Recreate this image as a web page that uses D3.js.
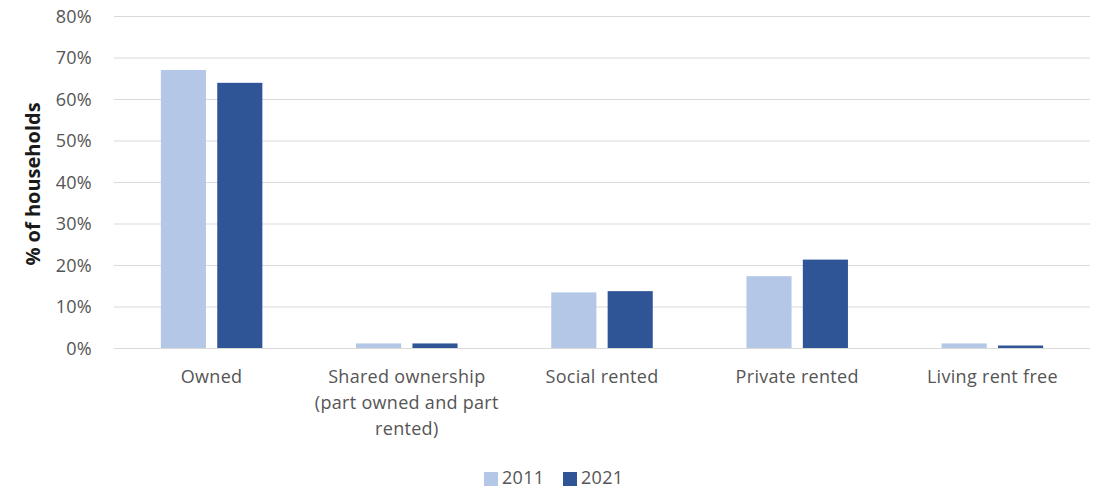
<!DOCTYPE html>
<html><head><meta charset="utf-8">
<script src="https://cdn.jsdelivr.net/npm/d3@7"></script>
<style>body{margin:0;background:#fff}svg{display:block}</style>
</head><body>
<svg id="c" width="1102" height="489"></svg>
<script>
const categories = ["Owned", "Shared ownership\n(part owned and part\nrented)", "Social rented", "Private rented", "Living rent free"];
const series = ["2011", "2021"];
const values2011 = [67.0, 1.1, 13.4, 17.3, 1.1];
const values2021 = [63.9, 1.1, 13.7, 21.3, 0.6];
const yTicks = [0, 10, 20, 30, 40, 50, 60, 70, 80];
const colors = ["#B4C7E7", "#2F5597"];

(function () {
const font = "'Open Sans', sans-serif";
const fs = 18, ls = "0.3px", txt = "#555555";
const svg = d3.select("#c");
const pLeft = 114, pRight = 1090, pTop = 16, pBottom = 348;

const y = d3.scaleLinear().domain([0, 80]).range([pBottom, pTop]);
const x0 = d3.scaleBand().domain(categories).range([pLeft, pRight]).paddingInner(0.48).paddingOuter(0.24);
const x1 = d3.scaleBand().domain(series).range([0, x0.bandwidth()]).paddingInner(0.2);

// gridlines
svg.append("g").selectAll("line").data(yTicks).join("line")
  .attr("x1", pLeft).attr("x2", pRight)
  .attr("y1", d => y(d) + 0.5).attr("y2", d => y(d) + 0.5)
  .attr("stroke", "#D9D9D9").attr("stroke-width", 1);

// y axis labels
const yAxis = d3.axisLeft(y).tickValues(yTicks).tickFormat(d => d + "%").tickSize(0).tickPadding(0);
const ya = svg.append("g").attr("transform", `translate(${pLeft - 22},0)`).call(yAxis);
ya.select(".domain").remove();
ya.selectAll("text").attr("font-family", font).attr("font-size", fs).attr("letter-spacing", ls)
  .attr("fill", txt).attr("dy", "0.35em");

// bars
const data = categories.map((c, i) => ({c, v: [values2011[i], values2021[i]]}));
const g = svg.append("g");
data.forEach(d => {
  series.forEach((s, j) => {
    g.append("rect")
      .attr("x", x0(d.c) + x1(s))
      .attr("y", y(d.v[j]))
      .attr("width", x1.bandwidth())
      .attr("height", y(0) - y(d.v[j]))
      .attr("fill", colors[j]);
  });
});

// x axis labels
const xa = svg.append("g");
categories.forEach(c => {
  const lines = c.split("\n");
  const cx = x0(c) + x0.bandwidth() / 2;
  const t = xa.append("text").attr("x", cx).attr("y", 383)
    .attr("text-anchor", "middle").attr("font-family", font).attr("font-size", fs)
    .attr("letter-spacing", ls).attr("fill", txt);
  lines.forEach((l, k) => t.append("tspan").attr("x", cx).attr("dy", k === 0 ? 0 : 26).text(l));
});

// y title
svg.append("text").attr("transform", `translate(40,${(pTop + pBottom) / 2 + 2}) rotate(-90)`)
  .attr("text-anchor", "middle").attr("font-family", font).attr("font-weight", "bold")
  .attr("font-size", 20).attr("fill", "#1a1a1a").text("% of households");

// legend
const legX = [484, 563];
series.forEach((s, j) => {
  svg.append("rect").attr("x", legX[j]).attr("y", 472).attr("width", 14).attr("height", 14).attr("fill", colors[j]);
  svg.append("text").attr("x", legX[j] + 18).attr("y", 478).attr("dy", "0.35em")
    .attr("font-family", font).attr("font-size", fs).attr("letter-spacing", ls).attr("fill", txt).text(s);
});
})();
</script>
</body></html>
